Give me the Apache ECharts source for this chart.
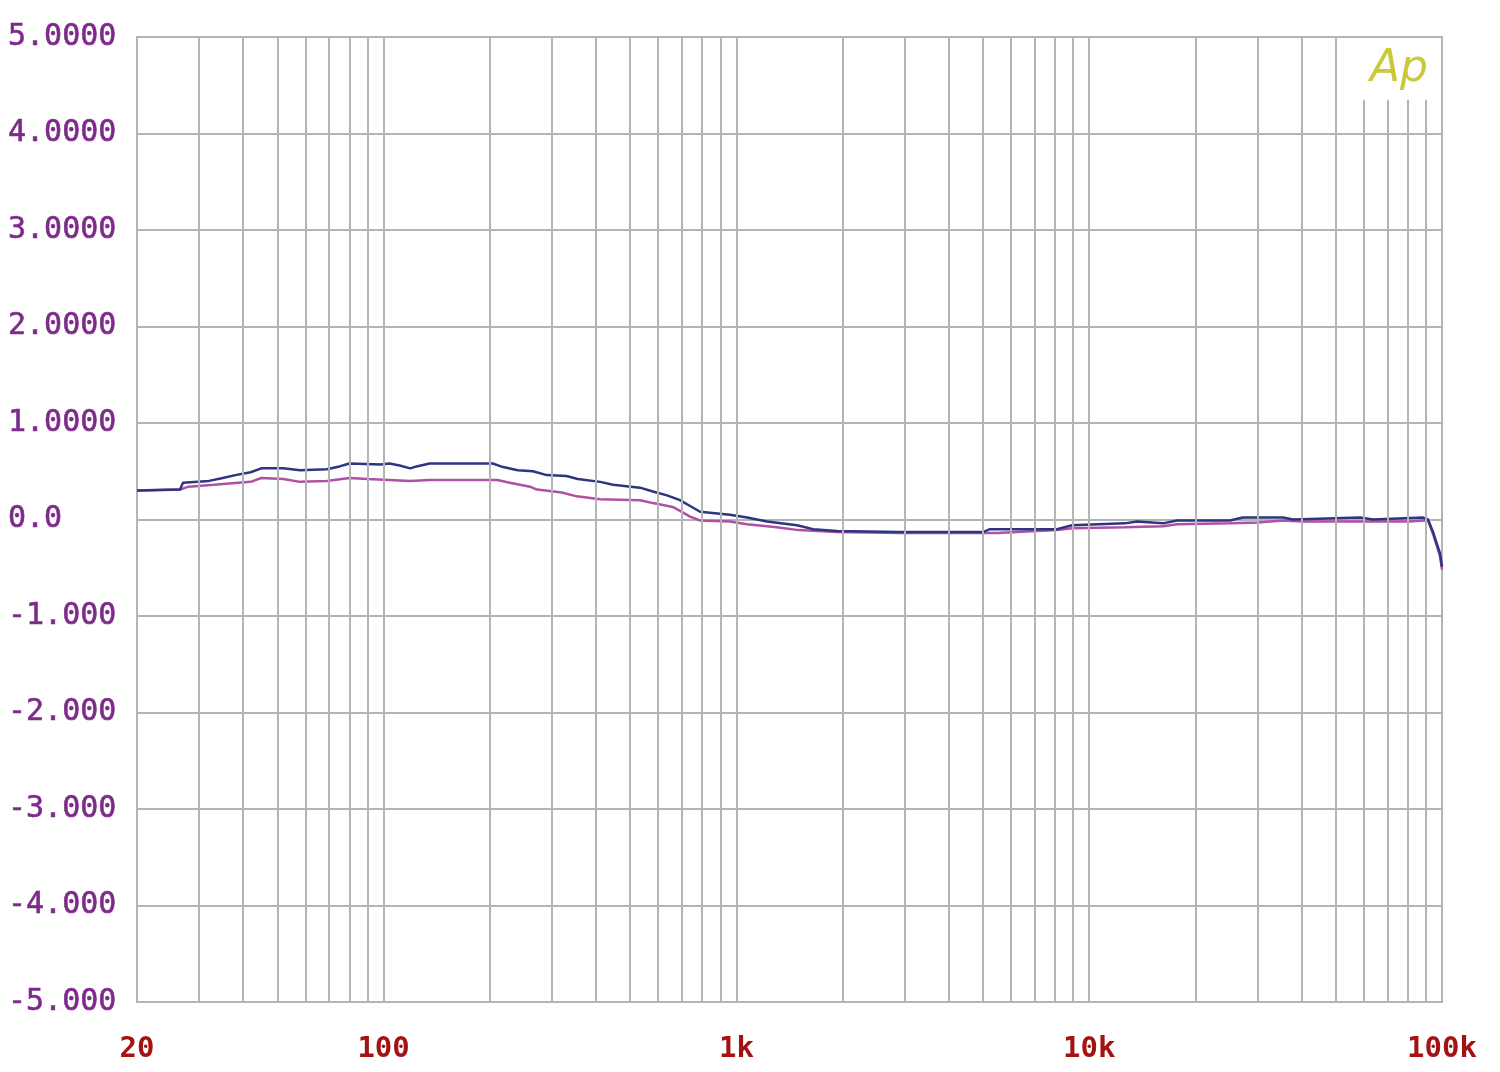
<!DOCTYPE html>
<html>
<head>
<meta charset="utf-8">
<script src="https://cdn.jsdelivr.net/npm/echarts@6/dist/echarts.min.js"></script>
<style>html,body{margin:0;padding:0;background:#fff;}#c{width:1500px;height:1072px;}</style>
</head>
<body>
<div id="c"></div>
<script>
// Channel A (blue) : [frequency Hz, level]
const blueData = [[20,0.30],[26.5,0.31],[27,0.38],[32,0.40],[35,0.43],[38,0.46],[42,0.49],[45,0.53],[52,0.53],[58,0.51],[69,0.52],[75,0.55],[80,0.58],[98,0.57],[104,0.58],[111,0.56],[119,0.53],[124,0.55],[135,0.58],[204,0.58],[215,0.55],[240,0.51],[265,0.50],[290,0.46],[330,0.45],[355,0.42],[411,0.39],[447,0.36],[533,0.33],[580,0.29],[636,0.25],[692,0.20],[739,0.14],[789,0.08],[959,0.05],[1072,0.02],[1221,-0.02],[1485,-0.06],[1649,-0.10],[1928,-0.12],[2908,-0.13],[5000,-0.13],[5234,-0.10],[8106,-0.10],[8938,-0.06],[12634,-0.04],[13664,-0.02],[16188,-0.04],[17738,-0.01],[25064,-0.01],[27288,0.02],[35440,0.02],[37820,0.0],[58560,0.02],[63740,0.0],[88360,0.02],[91260,0.0],[94320,-0.13],[98700,-0.35],[100000,-0.49]];
// Channel B (magenta)
const pinkData = [[20,0.30],[26.5,0.31],[28,0.34],[33,0.36],[42,0.39],[45,0.43],[52,0.42],[58,0.39],[69,0.40],[80,0.43],[90,0.42],[119,0.40],[135,0.41],[210,0.41],[228,0.38],[260,0.34],[272,0.31],[320,0.28],[353,0.24],[411,0.21],[533,0.20],[580,0.17],[660,0.13],[692,0.09],[739,0.03],[789,-0.01],[959,-0.02],[1072,-0.05],[1300,-0.08],[1500,-0.11],[1928,-0.13],[2908,-0.14],[5500,-0.14],[6242,-0.13],[8106,-0.11],[8938,-0.09],[12634,-0.08],[16188,-0.07],[17738,-0.05],[25064,-0.04],[30000,-0.03],[35440,-0.01],[40000,-0.02],[81160,-0.02],[88360,-0.01],[91260,-0.01],[94320,-0.15],[98700,-0.38],[100000,-0.52]];

const xTickValues = [20, 100, 1000, 10000, 100000];
const xTickLabels = ['20', '100', '1k', '10k', '100k'];
const yTickValues = [5, 4, 3, 2, 1, 0, -1, -2, -3, -4, -5];
const yTickLabels = ['5.0000', '4.0000', '3.0000', '2.0000', '1.0000', '0.0', '-1.000', '-2.000', '-3.000', '-4.000', '-5.000'];
const xGridFull = [30,40,50,60,70,80,90,100,200,300,400,500,600,700,800,900,1000,2000,3000,4000,5000,6000,7000,8000,9000,10000,20000,30000,40000,50000];
const xGridShort = [60000,70000,80000,90000];

const chart = echarts.init(document.getElementById('c'));
const gridColor = '#b4b4b4';
const vLines = xGridFull.map(f => ({xAxis: f}));
const vShort = xGridShort.map(f => [{coord: [f, 4.35]}, {coord: [f, -5]}]);

chart.setOption({
  backgroundColor: '#ffffff',
  animation: false,
  grid: {left: 137, right: 58, top: 37, bottom: 70, show: true, borderColor: gridColor, borderWidth: 2},
  xAxis: {
    type: 'log', logBase: 10, min: 20, max: 100000,
    axisLine: {show: false}, axisTick: {show: false}, splitLine: {show: false},
    axisLabel: {
      customValues: xTickValues,
      showMinLabel: true, showMaxLabel: true,
      margin: 33, verticalAlign: 'top',
      fontFamily: 'DejaVu Sans Mono', fontWeight: 'bold', fontSize: 29, color: '#a51212',
      formatter: v => { const i = xTickValues.findIndex(t => Math.abs(Math.log10(t) - Math.log10(v)) < 1e-3); return i >= 0 ? xTickLabels[i] : ''; }
    }
  },
  yAxis: {
    type: 'value', min: -5, max: 5, interval: 1,
    axisLine: {show: false}, axisTick: {show: false},
    splitLine: {show: true, lineStyle: {color: gridColor, width: 2}},
    axisLabel: {
      margin: 129, align: 'left',
      fontFamily: 'DejaVu Sans Mono', fontSize: 30, color: '#7d2a8a',
      textBorderColor: '#7d2a8a', textBorderWidth: 0.6,
      formatter: v => { const i = yTickValues.indexOf(Math.round(v)); return i >= 0 ? yTickLabels[i] : ''; }
    }
  },
  graphic: [{
    type: 'text', left: 1370, top: 48,
    style: {text: 'Ap', fontFamily: 'DejaVu Sans', fontStyle: 'italic', fontWeight: 200, fontSize: 44, fill: '#c9c93a'}
  }],
  series: [
    {
      type: 'line', data: [], silent: true,
      markLine: {
        silent: true, symbol: 'none', label: {show: false}, animation: false,
        lineStyle: {color: gridColor, width: 2, type: 'solid'},
        data: vLines.concat(vShort)
      }
    },
    {
      name: 'B', type: 'line', data: pinkData, showSymbol: false, z: 3,
      lineStyle: {color: '#b04fa6', width: 2.5}
    },
    {
      name: 'A', type: 'line', data: blueData, showSymbol: false, z: 4,
      lineStyle: {color: '#2e3580', width: 2.5}
    }
  ]
});
</script>
</body>
</html>
